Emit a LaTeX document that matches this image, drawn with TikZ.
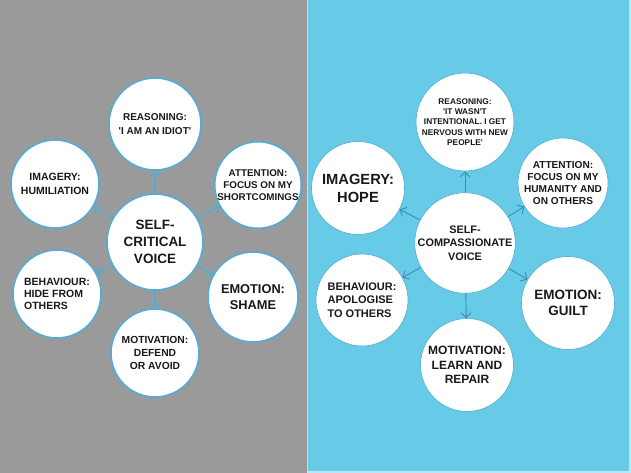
\documentclass[tikz,border=0pt]{standalone}
\usepackage{fontspec}
\setmainfont{Liberation Sans}
\usetikzlibrary{arrows.meta}
\newcommand{\sz}[2]{\fontsize{#1}{#2}\selectfont\bfseries}
\newcommand{\q}{\textquotesingle}

\definecolor{panelgray}{HTML}{9A9A9A}
\definecolor{panelblue}{HTML}{67CBE8}
\definecolor{ringblue}{HTML}{52ACD6}
\definecolor{linkblue}{HTML}{3A8CB0}

\begin{document}
\begin{tikzpicture}[x=1pt, y=-1pt,
  bubble/.style={circle, fill=white, align=center, inner sep=0pt,
    text=black!90},
  critbub/.style={bubble, draw=ringblue, line width=1.6pt},
  compbub/.style={bubble, draw=linkblue!50!panelblue, line width=0.6pt},
  critlink/.style={draw=ringblue, line width=1.3pt,
    -{Straight Barb[length=5pt, width=10pt]}},
  complink/.style={draw=linkblue, line width=0.9pt,
    -{Straight Barb[length=5pt, width=10pt]}}]
\useasboundingbox (0,0) rectangle (631,473);
\fill[panelgray] (0,0) rectangle (307,473);
\fill[panelblue] (307,0) rectangle (631,473);
\draw[line width=1.5pt, color=black!15!white] (307.5,0) -- (307.5,473);
\draw[line width=1.5pt, color=panelblue!45!white] (630.2,0) -- (630.2,472.2) -- (307,472.2);

% self-critical side
\node[critbub, minimum size=96pt, font=\sz{13.5}{16.7}] (critvoice) at (155,242)
  {SELF-\\CRITICAL\\VOICE};
\node[critbub, minimum size=92pt, font=\sz{10}{13.3}] (critreason) at (155,124)
  {REASONING:\\\q I AM AN IDIOT\q};
\node[critbub, minimum size=88pt, font=\sz{10.5}{13.3}] (critimage) at (55,184)
  {IMAGERY:\\HUMILIATION};
\node[critbub, minimum size=84pt, font=\sz{9.8}{12}] (critattn) at (258,185)
  {ATTENTION:\\FOCUS ON MY\\SHORTCOMINGS};
\node[critbub, minimum size=88pt, font=\sz{10.5}{12}, align=left] (critbehav) at (57,294)
  {BEHAVIOUR:\\HIDE FROM\\OTHERS};
\node[critbub, minimum size=90pt, font=\sz{12.8}{15.7}] (critemot) at (253,297)
  {EMOTION:\\SHAME};
\node[critbub, minimum size=88pt, font=\sz{10.3}{13}] (critmotiv) at (155,353)
  {MOTIVATION:\\DEFEND\\OR AVOID};

\draw[critlink] (critvoice) -- (critreason);
\draw[critlink] (critvoice) -- (critimage);
\draw[critlink] (critvoice) -- (critattn);
\draw[critlink] (critvoice) -- (critbehav);
\draw[critlink] (critvoice) -- (critemot);
\draw[critlink] (critvoice) -- (critmotiv);

% self-compassionate side
\node[compbub, minimum size=96pt, font=\sz{10.9}{13.3}] (compvoice) at (465,243)
  {SELF-\\COMPASSIONATE\\VOICE};
\node[compbub, minimum size=88pt, font=\sz{8.3}{10.3}] (compreason) at (465,122)
  {REASONING:\\\q IT WASN\q T\\INTENTIONAL. I GET\\NERVOUS WITH NEW\\PEOPLE\q};
\node[compbub, minimum size=93pt, font=\sz{14.7}{18}] (compimage) at (358,188)
  {IMAGERY:\\HOPE};
\node[compbub, minimum size=90pt, font=\sz{10.1}{12.3}] (compattn) at (563,183)
  {ATTENTION:\\FOCUS ON MY\\HUMANITY AND\\ON OTHERS};
\node[compbub, minimum size=92pt, font=\sz{11}{13.3}, align=left] (compbehav) at (362,300)
  {BEHAVIOUR:\\APOLOGISE\\TO OTHERS};
\node[compbub, minimum size=93pt, font=\sz{13.5}{16.7}] (compemot) at (568,303)
  {EMOTION:\\GUILT};
\node[compbub, minimum size=93pt, font=\sz{12}{14.2}] (compmotiv) at (467,365)
  {MOTIVATION:\\LEARN AND\\REPAIR};

\draw[complink] (compvoice) -- (compreason);
\draw[complink] (compvoice) -- (compimage);
\draw[complink] (compvoice) -- (compattn);
\draw[complink] (compvoice) -- (compbehav);
\draw[complink] (compvoice) -- (compemot);
\draw[complink] (compvoice) -- (compmotiv);
\end{tikzpicture}
\end{document}
